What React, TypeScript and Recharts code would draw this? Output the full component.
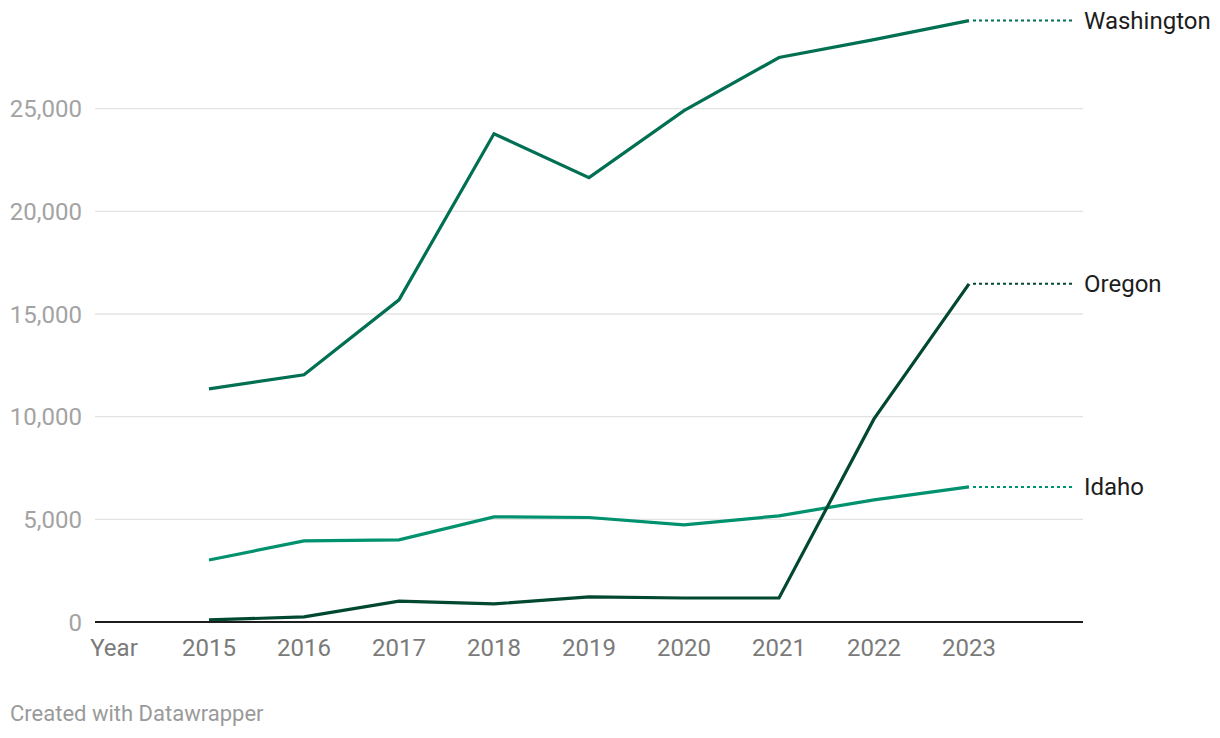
import { CartesianGrid, Line, LineChart, XAxis, YAxis } from "recharts";

const years = [2015, 2016, 2017, 2018, 2019, 2020, 2021, 2022, 2023];
const washington = [11350, 12040, 15690, 23780, 21640, 24900, 27490, 28360, 29290];
const oregon = [100, 250, 1020, 880, 1220, 1170, 1170, 9890, 16470];
const idaho = [3020, 3950, 4000, 5120, 5090, 4730, 5170, 5950, 6580];

const xTicks = [2014, 2015, 2016, 2017, 2018, 2019, 2020, 2021, 2022, 2023];
const yTicks = [0, 5000, 10000, 15000, 20000, 25000];
const gridValues = [5000, 10000, 15000, 20000, 25000];

const data = years.map((year, i) => ({
	year,
	washington: washington[i],
	oregon: oregon[i],
	idaho: idaho[i],
}));

const FONT = "Roboto, 'Noto Sans', sans-serif";

function endLabel(name: string, color: string) {
	return function EndLabel(props: any) {
		const { x, y, index } = props;
		if (index !== years.length - 1) return null;
		return (
			<g>
				<line
					stroke={color}
					strokeDasharray="3 3"
					strokeWidth={2}
					x1={x + 4}
					x2={x + 106}
					y1={y}
					y2={y}
				/>
				<text
					dominantBaseline="central"
					fill="#1d1d1d"
					fontFamily={FONT}
					fontSize={24}
					x={x + 115}
					y={y}
				>
					{name}
				</text>
			</g>
		);
	};
}

export default function App() {
	return (
		<div
			style={{
				position: "absolute",
				left: 0,
				top: 0,
				width: 1220,
				height: 738,
				background: "#fff",
				fontFamily: FONT,
			}}
		>
			<LineChart
				data={data}
				height={690}
				margin={{ top: 6, right: 137, left: 0, bottom: 0 }}
				width={1220}
			>
				<CartesianGrid
					horizontalValues={gridValues}
					stroke="#e3e3e3"
					strokeWidth={1.3}
					vertical={false}
				/>
				<XAxis
					axisLine={{ stroke: "#1d1d1d", strokeWidth: 2 }}
					dataKey="year"
					domain={[2013.8, 2024.2]}
					height={68}
					tick={{ fill: "#7a7a7a", fontSize: 24, fontFamily: FONT }}
					tickFormatter={(v: number) => (v === 2014 ? "Year" : String(v))}
					tickLine={false}
					tickMargin={17}
					tickSize={0}
					ticks={xTicks}
					type="number"
				/>
				<YAxis
					axisLine={false}
					domain={[0, 30000]}
					tick={{ fill: "#a3a3a3", fontSize: 24, fontFamily: FONT }}
					tickFormatter={(v: number) => v.toLocaleString("en-US")}
					tickLine={false}
					tickMargin={13}
					tickSize={0}
					ticks={yTicks}
					width={95}
				/>
				<Line
					dataKey="idaho"
					dot={false}
					isAnimationActive={false}
					label={endLabel("Idaho", "#00916e")}
					stroke="#00916e"
					strokeWidth={3.2}
					type="linear"
				/>
				<Line
					dataKey="washington"
					dot={false}
					isAnimationActive={false}
					label={endLabel("Washington", "#006f52")}
					stroke="#006f52"
					strokeWidth={3.2}
					type="linear"
				/>
				<Line
					dataKey="oregon"
					dot={false}
					isAnimationActive={false}
					label={endLabel("Oregon", "#00482f")}
					stroke="#00482f"
					strokeWidth={3.2}
					type="linear"
				/>
			</LineChart>
			<div
				style={{
					position: "absolute",
					left: 10,
					top: 701,
					fontSize: 22,
					color: "#9a9a9a",
				}}
			>
				Created with Datawrapper
			</div>
		</div>
	);
}
